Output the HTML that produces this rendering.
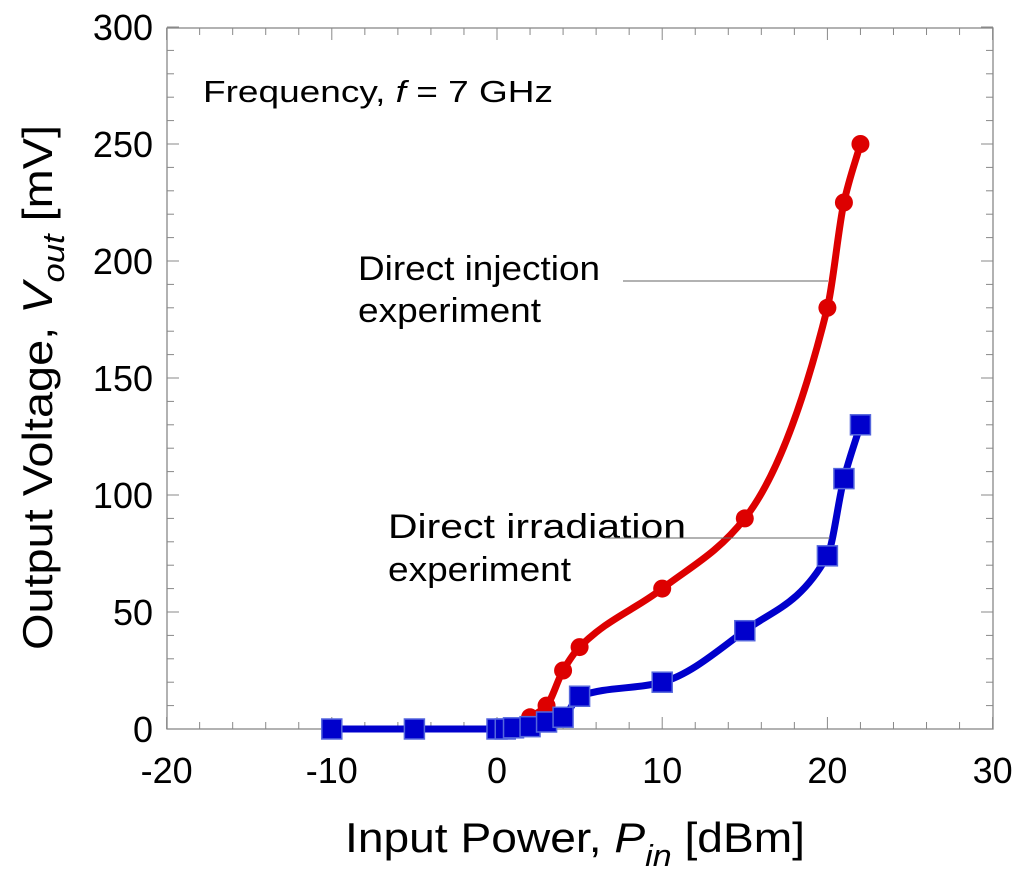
<!DOCTYPE html>
<html><head><meta charset="utf-8"><style>
body{margin:0;background:#fff}
svg{display:block;font-family:"Liberation Sans",sans-serif}
</style></head><body>
<svg id="chart" width="1024" height="883">
<rect x="167" y="28" width="826" height="701" fill="none" stroke="#888" stroke-width="1.3"/>
<g id="ticks"></g>
<g id="series"></g>
<text x="203" y="102" font-size="31" textLength="350" lengthAdjust="spacingAndGlyphs">Frequency, <tspan font-style="italic">f</tspan> = 7 GHz</text>
<text x="358" y="280" font-size="34" textLength="242" lengthAdjust="spacingAndGlyphs">Direct injection</text>
<text x="358" y="322" font-size="34" textLength="183" lengthAdjust="spacingAndGlyphs">experiment</text>
<line x1="623" y1="281" x2="828" y2="281" stroke="#666" stroke-width="1"/>
<text x="388" y="538" font-size="34" textLength="298" lengthAdjust="spacingAndGlyphs">Direct irradiation</text>
<text x="388" y="581" font-size="34" textLength="183" lengthAdjust="spacingAndGlyphs">experiment</text>
<line x1="605" y1="538" x2="830" y2="538" stroke="#666" stroke-width="1"/>
<text x="345" y="852" font-size="42" textLength="460" lengthAdjust="spacingAndGlyphs">Input Power, <tspan font-style="italic">P</tspan><tspan font-style="italic" font-size="31" dy="14">in</tspan><tspan dy="-14">  [dBm]</tspan></text>
<text transform="translate(52,650) rotate(-90)" font-size="42" textLength="525" lengthAdjust="spacingAndGlyphs">Output Voltage,  <tspan font-style="italic">V</tspan><tspan font-style="italic" font-size="31" dy="12">out</tspan><tspan dy="-12"> [mV]</tspan></text>
</svg>
<script>
const xTicks=[-20,-10,0,10,20,30];
const yTicks=[0,50,100,150,200,250,300];
const redX=[-10,-5,0,1,2,3,4,5,10,15,20,21,22];
const redY=[0,0,0,1,5,10,25,35,60,90,180,225,250];
const blueX=[-10,-5,0,0.5,1,2,3,4,5,10,15,20,21,22];
const blueY=[0,0,0,0,0.5,1,3,5,14,20,42,74,107,130];
const X=v=>497+v*16.52, Y=v=>729-v*2.34;
const NS="http://www.w3.org/2000/svg";
const tg=document.getElementById('ticks'), sg=document.getElementById('series');
function mk(tag,at,p){const e=document.createElementNS(NS,tag);for(const k in at)e.setAttribute(k,at[k]);p.appendChild(e);return e;}
for(let v=-20;v<=30;v+=2){const x=X(v),maj=v%10===0,l=maj?12:7;
 const a=mk('line',{x1:x,x2:x,y1:729,y2:729-l,stroke:'#888'},tg);
 
 
 const b=mk('line',{x1:x,x2:x,y1:28,y2:28+l,stroke:'#888'},tg);
 
 }
for(let v=0;v<=300;v+=10){const y=Y(v),maj=v%50===0,l=maj?12:7;
 const a=mk('line',{x1:167,x2:167+l,y1:y,y2:y,stroke:'#888'},tg);
 
 
 const b=mk('line',{x1:993,x2:993-l,y1:y,y2:y,stroke:'#888'},tg);
 
 }
xTicks.forEach(v=>{const t=mk('text',{x:X(v),y:783,'font-size':36,'text-anchor':'middle'},tg);t.textContent=v;
 
 });
yTicks.forEach(v=>{const t=mk('text',{x:153,y:Y(v)+13,'font-size':36,'text-anchor':'end'},tg);t.textContent=v;
 
 });
function pathFor(xs,ys){
 const n=xs.length,d=[],m=[];
 for(let i=0;i<n-1;i++)d.push((ys[i+1]-ys[i])/(xs[i+1]-xs[i]));
 m[0]=d[0];m[n-1]=d[n-2];
 for(let i=1;i<n-1;i++){ if(d[i-1]*d[i]<=0)m[i]=0; else {const h0=xs[i]-xs[i-1],h1=xs[i+1]-xs[i];const w1=2*h1+h0,w2=h1+2*h0;m[i]=(w1+w2)/(w1/d[i-1]+w2/d[i]);}}
 let s='M'+X(xs[0])+','+Y(ys[0]);
 for(let i=0;i<n-1;i++){const h=xs[i+1]-xs[i];
  s+=' C'+X(xs[i]+h/3)+','+Y(ys[i]+m[i]*h/3)+' '+X(xs[i+1]-h/3)+','+Y(ys[i+1]-m[i+1]*h/3)+' '+X(xs[i+1])+','+Y(ys[i+1]);}
 return s;}
const rl=mk('path',{d:pathFor(redX,redY),fill:'none',stroke:'#dd0000','stroke-width':7},sg);


redX.forEach((x,i)=>{const c=mk('circle',{cx:X(x),cy:Y(redY[i]),r:9,fill:'#dd0000'},sg);
 
 });
const bl=mk('path',{d:pathFor(blueX,blueY),fill:'none',stroke:'#0000cc','stroke-width':7},sg);


blueX.forEach((x,i)=>{const r=mk('rect',{x:X(x)-10,y:Y(blueY[i])-10,width:20,height:20,fill:'#0000cc',stroke:'#5566dd','stroke-width':1.5},sg);
 
 });
</script>
</body></html>
